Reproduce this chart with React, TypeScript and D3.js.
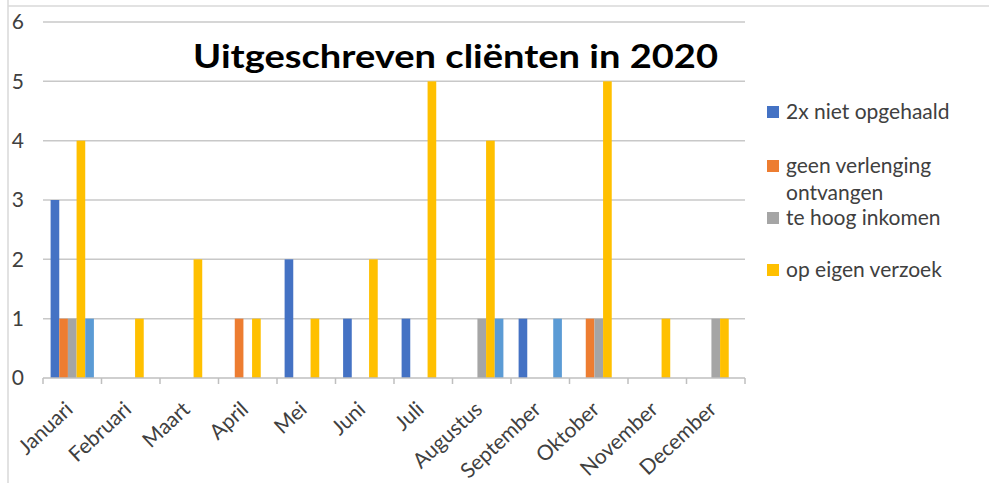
import React from "react";
import * as d3 from "d3";

const months = ["Januari","Februari","Maart","April","Mei","Juni","Juli","Augustus","September","Oktober","November","December"];
const nietOpgehaald = [3,0,0,0,2,1,1,0,1,0,0,0];
const geenVerlenging = [1,0,0,1,0,0,0,0,0,1,0,0];
const teHoogInkomen = [1,0,0,0,0,0,0,1,0,1,0,1];
const opEigenVerzoek = [4,1,2,1,1,2,5,4,0,5,1,1];
const overig = [1,0,0,0,0,0,0,1,1,0,0,0];
const seriesValues = [nietOpgehaald, geenVerlenging, teHoogInkomen, opEigenVerzoek, overig];
const colors = ["#4472C4","#ED7D31","#A5A5A5","#FFC000","#5B9BD5"];
const yTicks = [0,1,2,3,4,5,6];

const legendItems = [
  { lines: ["2x niet opgehaald"], color: colors[0], y: 112 },
  { lines: ["geen verlenging", "ontvangen"], color: colors[1], y: 166 },
  { lines: ["te hoog inkomen"], color: colors[2], y: 218 },
  { lines: ["op eigen verzoek"], color: colors[3], y: 270 },
];

export default function App() {
  const W = 989, H = 483;
  const left = 43, right = 745, top = 22, bottom = 378;
  const x = d3.scaleBand<string>().domain(months).range([left, right]).paddingInner(0).paddingOuter(0);
  const groupFrac = 0.74;
  const inner = d3.scaleBand<number>().domain(d3.range(5)).range([0, x.bandwidth() * groupFrac]);
  const groupOff = x.bandwidth() * (1 - groupFrac) / 2;
  const y = d3.scaleLinear().domain([0, 6]).range([bottom, top]);
  const font = "Lato, 'Open Sans', sans-serif";
  return (
    <svg width={W} height={H} style={{ position: "absolute", left: 0, top: 0, background: "#fff" }} fontFamily={font}>
      <rect x={0} y={0} width={W} height={H} fill="#fff" />
      <line x1={8} x2={W} y1={6} y2={6} stroke="#d9d9d9" strokeWidth={1.5} />
      <line x1={8} x2={8} y1={0} y2={H} stroke="#d9d9d9" strokeWidth={1.5} />
      {yTicks.map(t => (
        <g key={t}>
          {t > 0 && <line x1={left} x2={right} y1={y(t)} y2={y(t)} stroke="#c8c8c8" strokeWidth={1.5} />}
          <text x={24} y={y(t)} dy="0.35em" textAnchor="end" fontSize={21} fill="#404040">{t}</text>
        </g>
      ))}
      {seriesValues.map((vals, si) =>
        vals.map((v, mi) => v > 0 ? (
          <rect key={`${si}-${mi}`} x={(x(months[mi]) as number) + groupOff + (inner(si) as number)} y={y(v)}
            width={inner.bandwidth()} height={y(0) - y(v)} fill={colors[si]} />
        ) : null)
      )}
      <line x1={left} x2={right} y1={y(0)} y2={y(0)} stroke="#bfbfbf" strokeWidth={1.5} />
      {months.concat(["_end"]).map((m, i) => {
        const xx = left + i * x.bandwidth();
        return <line key={m} x1={xx} x2={xx} y1={y(0)} y2={y(0) + 6} stroke="#bfbfbf" strokeWidth={1.5} />;
      })}
      {months.map(m => {
        const cx = (x(m) as number) + x.bandwidth() / 2 + 2;
        return (
          <text key={m} transform={`translate(${cx},${411}) rotate(-43)`} textAnchor="end" fontSize={21} fill="#404040">{m}</text>
        );
      })}
      <text x={193} y={68} fontSize={32} fontWeight="bold" fill="#000" textLength={525} lengthAdjust="spacingAndGlyphs">Uitgeschreven cliënten in 2020</text>
      {legendItems.map((it, i) => (
        <g key={i}>
          <rect x={767} y={it.y - 6} width={12} height={12} fill={it.color} />
          {it.lines.map((ln, j) => (
            <text key={j} x={786} y={it.y + j * 27} dy="0.35em" fontSize={21} fill="#404040">{ln}</text>
          ))}
        </g>
      ))}
    </svg>
  );
}
